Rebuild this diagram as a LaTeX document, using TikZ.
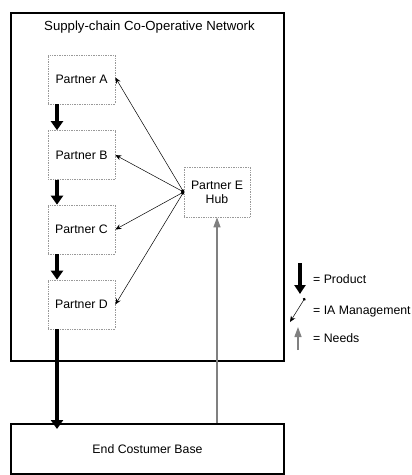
\documentclass[tikz,border=0pt]{standalone}
\usepackage{fontspec}
\setmainfont{Liberation Sans}
\usetikzlibrary{arrows.meta}
\begin{document}
\begin{tikzpicture}[x=1pt,y=-1pt,
  every node/.style={font=\fontsize{12.3}{14}\selectfont, inner sep=0pt},
  partner/.style={draw=gray!80, densely dotted, line width=0.7pt, minimum width=67pt, minimum height=49pt, align=center},
  bigbox/.style={draw=black, line width=2pt},
  product/.style={line width=4.5pt, -{Triangle[width=12pt,length=9pt]}},
  manage/.style={line width=0.5pt, {Circle[length=3pt]}-{Stealth[length=6pt,width=5pt]}},
  needs/.style={draw=gray, line width=1.3pt, -{Triangle[width=7pt,length=10pt]}, gray}]
\useasboundingbox (0,0) rectangle (412,475);
\node[bigbox, minimum width=273pt, minimum height=348pt, anchor=north west] (net) at (10,12) {};
\node[anchor=north west, font=\fontsize{13.2}{15}\selectfont] (title) at (44,21) {Supply-chain Co-Operative Network};
\node[partner] (A) at (81.5,79.5) {Partner A};
\node[partner] (B) at (81.5,155) {Partner B};
\node[partner] (C) at (81.5,229.5) {Partner C};
\node[partner] (D) at (81.5,304.5) {Partner D};
\node[partner, minimum width=66pt, minimum height=50pt] (E) at (217,192) {Partner E\\Hub};
\node[bigbox, minimum width=273pt, minimum height=50pt, anchor=north west] (end) at (10,423) {End Costumer Base};
% product arrows
\draw[product] ([xshift=-24.5pt]A.south) -- ([xshift=-24.5pt]B.north);
\draw[product] ([xshift=-24.5pt]B.south) -- ([xshift=-24.5pt]C.north);
\draw[product] ([xshift=-24.5pt]C.south) -- ([xshift=-24.5pt]D.north);
\coordinate (dtip) at ([xshift=-24.5pt]D.south |- end.north);
\draw[product] ([xshift=-24.5pt]D.south) -- ([yshift=-6pt]dtip);
% IA management arrows
\draw[manage] (E.west) -- ([yshift=2pt]A.east);
\draw[manage] (E.west) -- (B.east);
\draw[manage] (E.west) -- (C.east);
\draw[manage] (E.west) -- (D.east);
% needs
\draw[needs] (end.north -| E.south) -- (E.south);
% legend
\coordinate (lp1) at (300,263);
\coordinate (lp2) at (300,294);
\coordinate (lm1) at (305,298);
\coordinate (lm2) at (290,322);
\coordinate (ln1) at (298,350);
\coordinate (ln2) at (298,327);
\draw[product, line width=4pt, -{Triangle[width=11pt,length=9pt]}] (lp1) -- (lp2);
\draw[manage] (lm1) -- (lm2);
\draw[needs] (ln1) -- (ln2);
\node[anchor=west] (lt1) at (313,279) {= Product};
\node[anchor=west] (lt2) at (313,312) {= IA Management};
\node[anchor=west] (lt3) at (313,338) {= Needs};
\end{tikzpicture}
\end{document}
